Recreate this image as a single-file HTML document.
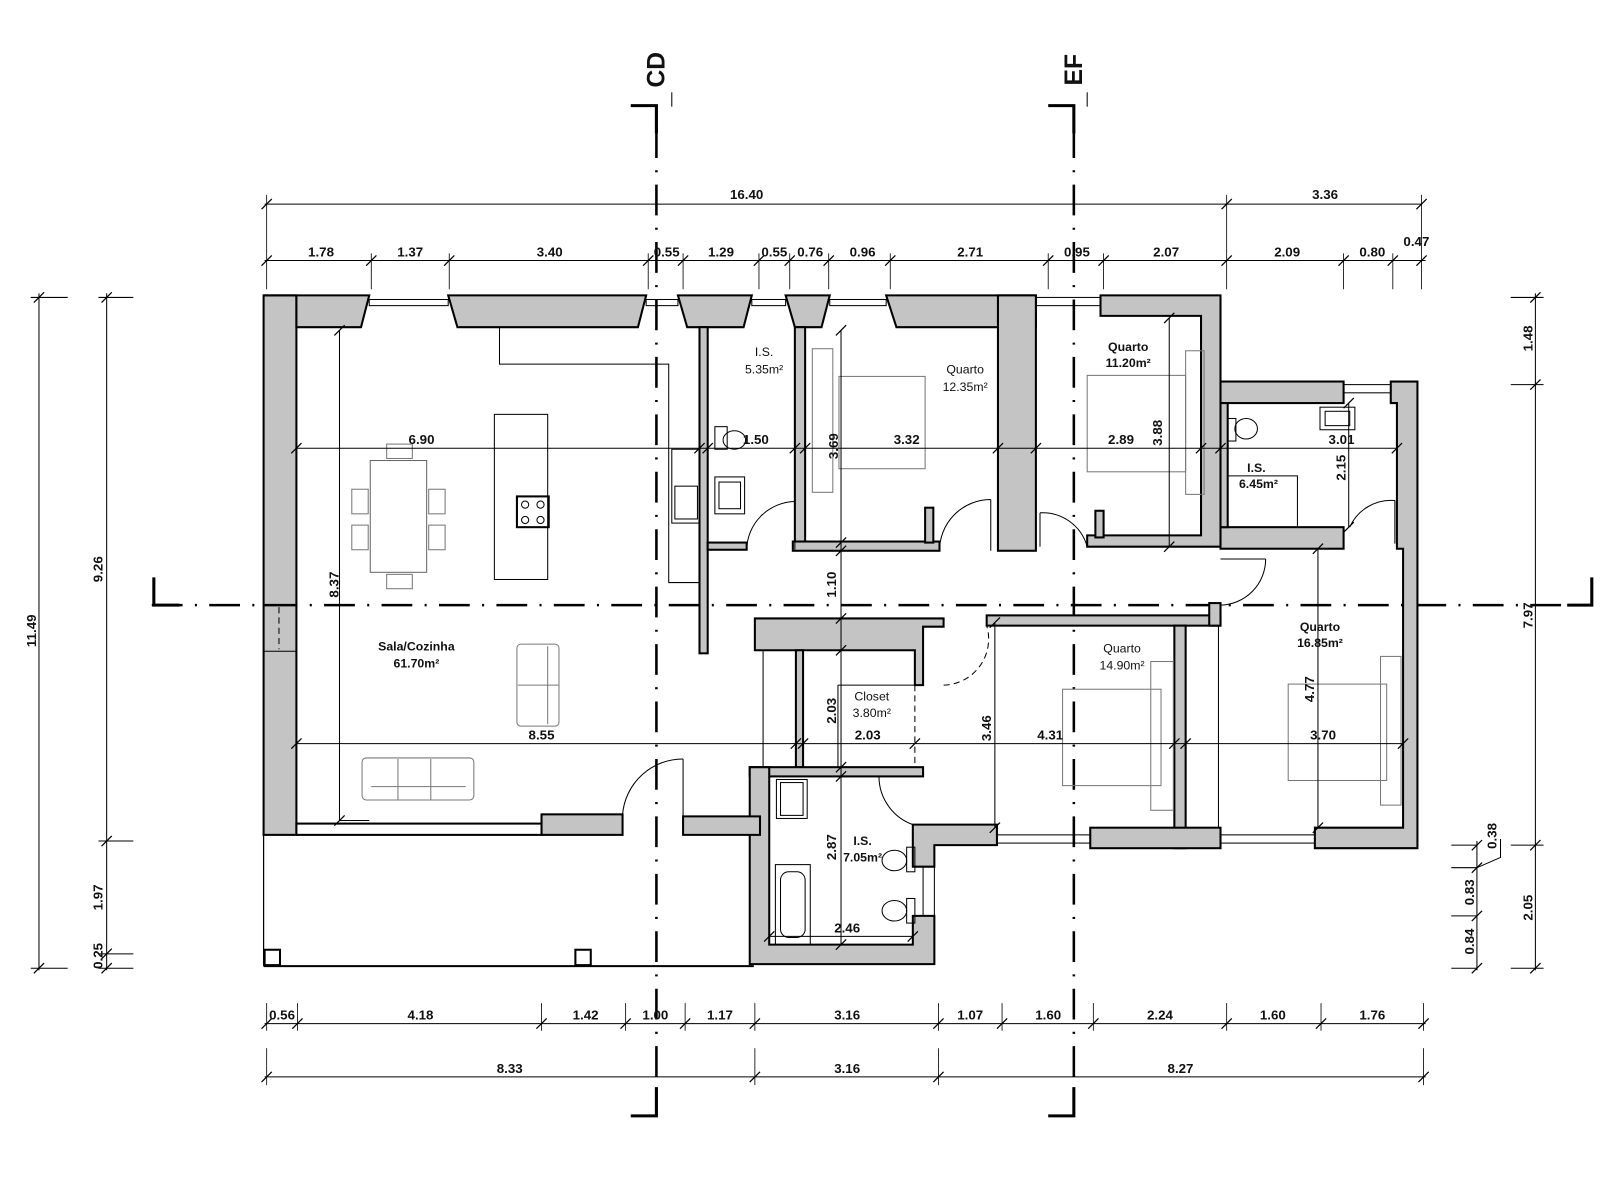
<!DOCTYPE html>
<html><head><meta charset="utf-8"><style>
html,body{margin:0;padding:0;background:#fff;}
svg{display:block;}
text{font-family:"Liberation Sans Narrow","Liberation Sans",sans-serif;fill:#111;}
.d{font-size:13px;font-weight:bold;text-anchor:middle;}
.r{font-size:12px;text-anchor:middle;}
.rb{font-size:12px;font-weight:bold;text-anchor:middle;}
</style></head><body>
<svg width="1600" height="1200" viewBox="0 0 1560 1170" xmlns="http://www.w3.org/2000/svg">
<defs>
<line id="t" x1="-5" y1="5" x2="5" y2="-5" stroke="#000" stroke-width="1.2"/>
</defs>
<rect width="1560" height="1170" fill="#fff"/>

<g stroke="#000" fill="none">
<line x1="148" y1="590" x2="1552" y2="590" stroke-width="2.5" stroke-dasharray="30,12,2,12"/>
<polyline points="150,563 150,590 175,590" stroke-width="3"/>
<polyline points="1552,563 1552,590 1528,590" stroke-width="3"/>
<line x1="640" y1="124" x2="640" y2="1060" stroke-width="2.5" stroke-dasharray="30,12,2,12"/>
<polyline points="615,103 640,103 640,130" stroke-width="3"/>
<line x1="655" y1="90" x2="655" y2="104" stroke-width="1"/>
<polyline points="640,1060 640,1088 615,1088" stroke-width="3"/>
<line x1="1047" y1="124" x2="1047" y2="1060" stroke-width="2.5" stroke-dasharray="30,12,2,12"/>
<polyline points="1022,103 1047,103 1047,130" stroke-width="3"/>
<line x1="1060" y1="90" x2="1060" y2="104" stroke-width="1"/>
<polyline points="1047,1060 1047,1088 1022,1088" stroke-width="3"/>
</g>
<text x="0" y="0" transform="translate(640,68) rotate(-90)" style="font-size:24px;font-weight:bold;text-anchor:middle" dy="8">CD</text>
<text x="0" y="0" transform="translate(1047,68) rotate(-90)" style="font-size:24px;font-weight:bold;text-anchor:middle" dy="8">EF</text>

<g stroke="#000" fill="none" stroke-width="1.2">
<line x1="257" y1="814" x2="257" y2="942"/>
<line x1="257" y1="942" x2="735" y2="942" stroke-width="2"/>
<rect x="258" y="926" width="15" height="15" stroke-width="2"/>
<rect x="561" y="926" width="15" height="15" stroke-width="2"/>
</g>

<g fill="#c4c4c4" stroke="#000" stroke-width="2">
<rect x="257" y="288" width="32" height="526"/>
<path d="M257,288 H360 L352,319 H289 V288Z"/>
<path d="M437,288 H630 L622,319 H446Z"/>
<path d="M661,288 H733 L725,319 H670Z"/>
<path d="M766,288 H809 L801,319 H775Z"/>
<path d="M864,288 H1010 V319 H874Z"/>
<rect x="682" y="319" width="8" height="318"/>
<rect x="775" y="319" width="10" height="217"/>
<rect x="690" y="529" width="38" height="7"/>
<rect x="773" y="528" width="143" height="9"/>
<rect x="902" y="495" width="8" height="34"/>
<rect x="973" y="288" width="37" height="249"/>
<path d="M1073,288 H1190 V533 H1060 V522 H1171 V308 H1073Z"/>
<rect x="1068" y="498" width="8" height="26"/>
<rect x="1190" y="372" width="120" height="21"/>
<rect x="1190" y="514" width="120" height="21"/>
<rect x="1190" y="393" width="7" height="121"/>
<path d="M1356,372 H1382 V827 H1282 V807 H1368 V535 H1362 V393 H1356Z"/>
<path d="M736,603 H920 V611 H900 V668 H892 V634 H736Z"/>
<rect x="962" y="600" width="228" height="10"/>
<rect x="1179" y="588" width="11" height="22"/>
<rect x="1145" y="610" width="11" height="217"/>
<rect x="1063" y="807" width="127" height="20"/>
<rect x="776" y="634" width="7" height="114"/>
<rect x="731" y="748" width="169" height="9"/>
<path d="M731,748 H750 V921 H890 V893 H911 V940 H731Z"/>
<path d="M890,804 H972 V824 H911 V845 H890Z"/>
<rect x="289" y="803" width="239" height="11" fill="#fff"/>
<rect x="528" y="794" width="79" height="20"/>
<path d="M666,796 H741 V814 H666Z"/>
</g>
<g stroke="#000" fill="none" stroke-width="1">
<line x1="257" y1="590" x2="289" y2="590" stroke-width="2.5"/>
<line x1="257" y1="635" x2="289" y2="635"/>
<line x1="272" y1="592" x2="272" y2="633" stroke-dasharray="6,4"/>
<rect x="360" y="292" width="77" height="6"/>
<rect x="630" y="292" width="31" height="6"/>
<rect x="733" y="292" width="33" height="6"/>
<rect x="809" y="292" width="55" height="6"/>
<rect x="1010" y="290" width="63" height="8"/>
<rect x="1310" y="375" width="46" height="8"/>
<rect x="1190" y="814" width="92" height="8"/>
<rect x="972" y="814" width="91" height="8"/>
<rect x="900" y="845" width="11" height="48"/>
<line x1="1188" y1="610" x2="1188" y2="807"/>
<line x1="744" y1="634" x2="744" y2="748"/>
<line x1="817" y1="668" x2="817" y2="748"/>
<line x1="817" y1="668" x2="892" y2="668"/>
<line x1="892" y1="668" x2="892" y2="748" stroke-dasharray="6,4"/>
<path d="M607,794 A59,59 0 0 1 666,740" /><line x1="666" y1="740" x2="666" y2="796"/>
<path d="M728,536 A48,48 0 0 1 775,489"/><line x1="775" y1="489" x2="775" y2="536"/>
<path d="M916,537 A50,50 0 0 1 966,487"/><line x1="966" y1="487" x2="966" y2="537"/>
<path d="M1014,500 A45,45 0 0 1 1060,533"/><line x1="1014" y1="500" x2="1014" y2="533"/>
<path d="M1190,590 A45,45 0 0 0 1234,545"/><line x1="1190" y1="545" x2="1234" y2="545"/>
<path d="M1316,514 A44,44 0 0 1 1360,488"/><line x1="1360" y1="488" x2="1360" y2="530"/>
<path d="M920,668 A45,45 0 0 0 962,610" stroke-dasharray="6,4"/>
<path d="M857,757 A50,50 0 0 0 890,804"/>
<polyline points="487,319 487,355 652,355 652,568 682,568"/>
<rect x="482" y="404" width="52" height="161"/>
<rect x="504" y="484" width="31" height="30" stroke-width="2"/>
<circle cx="512" cy="492" r="3.5"/><circle cx="527" cy="492" r="3.5"/><circle cx="512" cy="507" r="3.5"/><circle cx="527" cy="507" r="3.5"/>
<rect x="655" y="438" width="27" height="72"/>
<rect x="658" y="474" width="22" height="32"/>
<rect x="361" y="449" width="55" height="109" stroke="#666"/>
<g stroke="#777">
<rect x="377" y="433" width="25" height="14"/><rect x="377" y="560" width="25" height="14"/>
<rect x="343" y="477" width="16" height="24"/><rect x="343" y="512" width="16" height="24"/>
<rect x="418" y="477" width="16" height="24"/><rect x="418" y="512" width="16" height="24"/>
<rect x="353" y="739" width="109" height="41" rx="4"/>
<line x1="388" y1="740" x2="388" y2="780"/><line x1="420" y1="740" x2="420" y2="780"/><line x1="362" y1="767" x2="454" y2="767"/>
<rect x="504" y="628" width="41" height="80" rx="4"/>
<line x1="534" y1="630" x2="534" y2="706"/><line x1="505" y1="668" x2="545" y2="668"/>
<rect x="818" y="367" width="84" height="90"/>
<rect x="792" y="340" width="20" height="140"/>
<rect x="1060" y="366" width="96" height="94"/>
<rect x="1156" y="342" width="18" height="140"/>
<rect x="1036" y="672" width="96" height="94"/>
<rect x="1122" y="645" width="22" height="145"/>
<rect x="1256" y="667" width="96" height="94"/>
<rect x="1346" y="640" width="20" height="145"/>
</g>
<rect x="697" y="416" width="12" height="22"/><ellipse cx="716" cy="429" rx="11" ry="9"/>
<rect x="697" y="465" width="29" height="36"/><rect x="701" y="470" width="21" height="26"/>
<rect x="761" y="763" width="22" height="32"/><rect x="757" y="760" width="30" height="38"/>
<rect x="756" y="843" width="34" height="78"/><rect x="761" y="850" width="24" height="64" rx="8"/>
<ellipse cx="872" cy="839" rx="12" ry="10"/><rect x="884" y="826" width="8" height="24"/>
<ellipse cx="872" cy="888" rx="12" ry="10"/><rect x="884" y="876" width="8" height="24"/>
<ellipse cx="1215" cy="418" rx="11" ry="10"/><rect x="1197" y="408" width="8" height="22"/>
<rect x="1287" y="397" width="34" height="22"/><rect x="1292" y="401" width="24" height="14"/>
<polyline points="1197,464 1265,464 1265,514"/>
</g>

<g stroke="#000" stroke-width="1" fill="none">
<line x1="258" y1="199" x2="1386" y2="199"/>
<line x1="258" y1="254" x2="1390" y2="254"/>
<g stroke-width="0.8">
<line x1="260" y1="190" x2="260" y2="282"/><line x1="1196" y1="190" x2="1196" y2="282"/><line x1="1386" y1="190" x2="1386" y2="282"/>
<line x1="362" y1="247" x2="362" y2="282"/><line x1="438" y1="247" x2="438" y2="282"/><line x1="632" y1="247" x2="632" y2="282"/>
<line x1="666" y1="247" x2="666" y2="282"/><line x1="740" y1="247" x2="740" y2="282"/><line x1="770" y1="247" x2="770" y2="282"/>
<line x1="808" y1="247" x2="808" y2="282"/><line x1="868" y1="247" x2="868" y2="282"/><line x1="1022" y1="247" x2="1022" y2="282"/>
<line x1="1076" y1="247" x2="1076" y2="282"/><line x1="1310" y1="247" x2="1310" y2="282"/><line x1="1358" y1="247" x2="1358" y2="282"/>
</g>
<line x1="258" y1="998" x2="1390" y2="998"/>
<line x1="258" y1="1050" x2="1390" y2="1050"/>
<g stroke-width="0.8">
<line x1="260" y1="978" x2="260" y2="1005"/><line x1="290" y1="978" x2="290" y2="1005"/><line x1="528" y1="978" x2="528" y2="1005"/>
<line x1="610" y1="978" x2="610" y2="1005"/><line x1="668" y1="978" x2="668" y2="1005"/><line x1="736" y1="978" x2="736" y2="1005"/>
<line x1="915" y1="978" x2="915" y2="1005"/><line x1="977" y1="978" x2="977" y2="1005"/><line x1="1066" y1="978" x2="1066" y2="1005"/>
<line x1="1196" y1="978" x2="1196" y2="1005"/><line x1="1288" y1="978" x2="1288" y2="1005"/><line x1="1388" y1="978" x2="1388" y2="1005"/>
<line x1="260" y1="1022" x2="260" y2="1058"/><line x1="736" y1="1022" x2="736" y2="1058"/><line x1="915" y1="1022" x2="915" y2="1058"/><line x1="1388" y1="1022" x2="1388" y2="1058"/>
</g>
<line x1="38" y1="286" x2="38" y2="946"/>
<line x1="104" y1="286" x2="104" y2="946"/>
<line x1="30" y1="290" x2="66" y2="290"/><line x1="96" y1="290" x2="130" y2="290"/>
<line x1="96" y1="820" x2="130" y2="820"/><line x1="96" y1="930" x2="130" y2="930"/>
<line x1="30" y1="944" x2="66" y2="944"/><line x1="96" y1="944" x2="130" y2="944"/>
<line x1="1497" y1="286" x2="1497" y2="946"/>
<line x1="1473" y1="290" x2="1505" y2="290"/><line x1="1473" y1="375" x2="1505" y2="375"/>
<line x1="1473" y1="824" x2="1505" y2="824"/><line x1="1473" y1="944" x2="1505" y2="944"/>
<line x1="1440" y1="820" x2="1440" y2="946"/>
<line x1="1415" y1="824" x2="1440" y2="824"/><line x1="1415" y1="846" x2="1440" y2="846"/>
<line x1="1415" y1="893" x2="1440" y2="893"/><line x1="1415" y1="944" x2="1440" y2="944"/>
<polyline points="1440,846 1463,836 1463,818"/>
<line x1="289" y1="437" x2="1362" y2="437"/>
<line x1="289" y1="725" x2="1368" y2="725"/>
<line x1="331" y1="322" x2="331" y2="800"/><line x1="331" y1="800" x2="360" y2="800"/>
<line x1="820" y1="322" x2="820" y2="921"/>
<line x1="1140" y1="310" x2="1140" y2="533"/>
<line x1="1315" y1="393" x2="1315" y2="514"/>
<line x1="1285" y1="535" x2="1285" y2="807"/>
<line x1="970" y1="607" x2="970" y2="807"/>
<line x1="750" y1="913" x2="890" y2="913"/>
</g>
<g>
<use href="#t" x="260" y="199"/><use href="#t" x="1196" y="199"/><use href="#t" x="1386" y="199"/>
<use href="#t" x="260" y="254"/><use href="#t" x="362" y="254"/><use href="#t" x="438" y="254"/><use href="#t" x="632" y="254"/><use href="#t" x="666" y="254"/><use href="#t" x="740" y="254"/><use href="#t" x="770" y="254"/><use href="#t" x="808" y="254"/><use href="#t" x="868" y="254"/><use href="#t" x="1022" y="254"/><use href="#t" x="1076" y="254"/><use href="#t" x="1196" y="254"/><use href="#t" x="1310" y="254"/><use href="#t" x="1358" y="254"/><use href="#t" x="1386" y="254"/>
<use href="#t" x="260" y="998"/><use href="#t" x="290" y="998"/><use href="#t" x="528" y="998"/><use href="#t" x="610" y="998"/><use href="#t" x="668" y="998"/><use href="#t" x="736" y="998"/><use href="#t" x="915" y="998"/><use href="#t" x="977" y="998"/><use href="#t" x="1066" y="998"/><use href="#t" x="1196" y="998"/><use href="#t" x="1288" y="998"/><use href="#t" x="1388" y="998"/>
<use href="#t" x="260" y="1050"/><use href="#t" x="736" y="1050"/><use href="#t" x="915" y="1050"/><use href="#t" x="1388" y="1050"/>
<use href="#t" x="38" y="290"/><use href="#t" x="38" y="944"/><use href="#t" x="104" y="290"/><use href="#t" x="104" y="820"/><use href="#t" x="104" y="930"/><use href="#t" x="104" y="944"/>
<use href="#t" x="1497" y="290"/><use href="#t" x="1497" y="375"/><use href="#t" x="1497" y="824"/><use href="#t" x="1497" y="944"/>
<use href="#t" x="1440" y="824"/><use href="#t" x="1440" y="846"/><use href="#t" x="1440" y="893"/><use href="#t" x="1440" y="944"/>
<use href="#t" x="289" y="437"/><use href="#t" x="682" y="437"/><use href="#t" x="690" y="437"/><use href="#t" x="775" y="437"/><use href="#t" x="785" y="437"/><use href="#t" x="973" y="437"/><use href="#t" x="1010" y="437"/><use href="#t" x="1171" y="437"/><use href="#t" x="1190" y="437"/><use href="#t" x="1362" y="437"/>
<use href="#t" x="289" y="725"/><use href="#t" x="776" y="725"/><use href="#t" x="783" y="725"/><use href="#t" x="892" y="725"/><use href="#t" x="1145" y="725"/><use href="#t" x="1156" y="725"/><use href="#t" x="1368" y="725"/>
<use href="#t" x="331" y="322"/><use href="#t" x="331" y="800"/><use href="#t" x="820" y="322"/><use href="#t" x="820" y="529"/><use href="#t" x="820" y="537"/><use href="#t" x="820" y="603"/><use href="#t" x="820" y="634"/><use href="#t" x="820" y="748"/><use href="#t" x="820" y="757"/><use href="#t" x="820" y="921"/>
<use href="#t" x="1140" y="310"/><use href="#t" x="1140" y="533"/><use href="#t" x="1315" y="393"/><use href="#t" x="1315" y="514"/><use href="#t" x="1285" y="535"/><use href="#t" x="1285" y="807"/><use href="#t" x="970" y="607"/><use href="#t" x="970" y="807"/><use href="#t" x="750" y="913"/><use href="#t" x="890" y="913"/>
</g>

<g class="d">
<text class="d" x="728" y="194">16.40</text><text class="d" x="1292" y="194">3.36</text>
<text class="d" x="313" y="250">1.78</text><text class="d" x="400" y="250">1.37</text><text class="d" x="536" y="250">3.40</text><text class="d" x="650" y="250">0.55</text><text class="d" x="703" y="250">1.29</text><text class="d" x="755" y="250">0.55</text><text class="d" x="790" y="250">0.76</text><text class="d" x="841" y="250">0.96</text><text class="d" x="946" y="250">2.71</text><text class="d" x="1050" y="250">0.95</text><text class="d" x="1137" y="250">2.07</text><text class="d" x="1255" y="250">2.09</text><text class="d" x="1338" y="250">0.80</text><text class="d" x="1381" y="240">0.47</text>
<text class="d" x="275" y="994">0.56</text><text class="d" x="410" y="994">4.18</text><text class="d" x="571" y="994">1.42</text><text class="d" x="639" y="994">1.00</text><text class="d" x="702" y="994">1.17</text><text class="d" x="826" y="994">3.16</text><text class="d" x="946" y="994">1.07</text><text class="d" x="1022" y="994">1.60</text><text class="d" x="1131" y="994">2.24</text><text class="d" x="1241" y="994">1.60</text><text class="d" x="1338" y="994">1.76</text>
<text class="d" x="497" y="1046">8.33</text><text class="d" x="826" y="1046">3.16</text><text class="d" x="1151" y="1046">8.27</text>
<text class="d" x="411" y="433">6.90</text><text class="d" x="737" y="433">1.50</text><text class="d" x="884" y="433">3.32</text><text class="d" x="1093" y="433">2.89</text><text class="d" x="1308" y="433">3.01</text>
<text class="d" x="528" y="721">8.55</text><text class="d" x="846" y="721">2.03</text><text class="d" x="1024" y="721">4.31</text><text class="d" x="1290" y="721">3.70</text><text class="d" x="826" y="909">2.46</text>
</g>
<g style="font-size:13px;font-weight:bold;text-anchor:middle">
<text transform="translate(35,615) rotate(-90)">11.49</text>
<text transform="translate(100,555) rotate(-90)">9.26</text>
<text transform="translate(100,875) rotate(-90)">1.97</text>
<text transform="translate(100,932) rotate(-90)">0.25</text>
<text transform="translate(1494,330) rotate(-90)">1.48</text>
<text transform="translate(1494,600) rotate(-90)">7.97</text>
<text transform="translate(1494,885) rotate(-90)">2.05</text>
<text transform="translate(1459,815) rotate(-90)">0.38</text>
<text transform="translate(1437,870) rotate(-90)">0.83</text>
<text transform="translate(1437,918) rotate(-90)">0.84</text>
<text transform="translate(817,435) rotate(-90)">3.69</text>
<text transform="translate(1133,422) rotate(-90)">3.88</text>
<text transform="translate(1312,456) rotate(-90)">2.15</text>
<text transform="translate(815,570) rotate(-90)">1.10</text>
<text transform="translate(330,570) rotate(-90)">8.37</text>
<text transform="translate(815,693) rotate(-90)">2.03</text>
<text transform="translate(966,710) rotate(-90)">3.46</text>
<text transform="translate(1281,672) rotate(-90)">4.77</text>
<text transform="translate(815,826) rotate(-90)">2.87</text>
</g>

<text class="r" x="745" y="347">I.S.</text><text class="r" x="745" y="364">5.35m²</text>
<text class="r" x="941" y="364">Quarto</text><text class="r" x="941" y="381">12.35m²</text>
<text class="rb" x="1100" y="342">Quarto</text><text class="rb" x="1100" y="358">11.20m²</text>
<text class="rb" x="1225" y="460">I.S.</text><text class="rb" x="1227" y="476">6.45m²</text>
<text class="rb" x="1287" y="615">Quarto</text><text class="rb" x="1287" y="631">16.85m²</text>
<text class="r" x="1094" y="636">Quarto</text><text class="r" x="1094" y="653">14.90m²</text>
<text class="r" x="850" y="683">Closet</text><text class="r" x="850" y="699">3.80m²</text>
<text class="rb" x="841" y="824">I.S.</text><text class="rb" x="841" y="840">7.05m²</text>
<text class="rb" x="406" y="634">Sala/Cozinha</text><text class="rb" x="406" y="651">61.70m²</text>
</svg>
</body></html>
